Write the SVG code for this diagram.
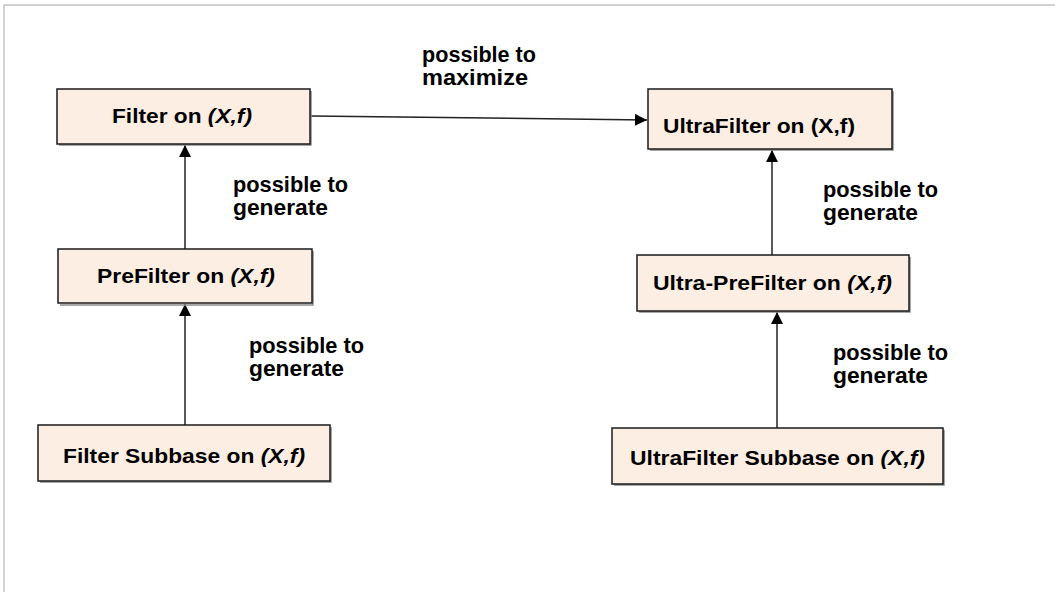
<svg xmlns="http://www.w3.org/2000/svg" width="1055" height="592" viewBox="0 0 1055 592">
<defs>
<style>
.box{fill:#fdeee4;stroke:#1a1a1a;stroke-width:1.5}
.sh{fill:none;stroke:#8a8a8a;stroke-width:1.5}
.t{font-family:"Liberation Sans",Arial,sans-serif;font-weight:bold;font-size:21px;fill:#000}
.lbl{font-family:"Liberation Sans",Arial,sans-serif;font-weight:bold;font-size:22px;fill:#000}
.it{font-style:italic}
.con{stroke:#222;stroke-width:1.5;fill:none}
</style>
<marker id="ah" viewBox="0 0 12 12" refX="12" refY="6" markerWidth="12" markerHeight="12" markerUnits="userSpaceOnUse" orient="auto">
<path d="M0,0 L12,6 L0,12 Z" fill="#000"/>
</marker>
</defs>
<rect width="1055" height="592" fill="#fff"/>
<path d="M4,592 V5 H1055" fill="none" stroke="#c4c4c4" stroke-width="1.5"/>

<g id="connectors">
<line class="con" x1="311" y1="116" x2="647" y2="120" marker-end="url(#ah)"/>
<line class="con" x1="185" y1="249" x2="185" y2="145" marker-end="url(#ah)"/>
<line class="con" x1="185" y1="425" x2="185" y2="304" marker-end="url(#ah)"/>
<line class="con" x1="772" y1="255" x2="772" y2="150" marker-end="url(#ah)"/>
<line class="con" x1="777" y1="428" x2="777" y2="312" marker-end="url(#ah)"/>
</g>

<g id="labels">
<text class="lbl" x="422" y="62" textLength="114" lengthAdjust="spacingAndGlyphs">possible to</text>
<text class="lbl" x="422" y="85" textLength="106" lengthAdjust="spacingAndGlyphs">maximize</text>
<text class="lbl" x="233" y="192" textLength="115" lengthAdjust="spacingAndGlyphs">possible to</text>
<text class="lbl" x="233" y="215" textLength="95" lengthAdjust="spacingAndGlyphs">generate</text>
<text class="lbl" x="249" y="353" textLength="115" lengthAdjust="spacingAndGlyphs">possible to</text>
<text class="lbl" x="249" y="376" textLength="95" lengthAdjust="spacingAndGlyphs">generate</text>
<text class="lbl" x="823" y="197" textLength="115" lengthAdjust="spacingAndGlyphs">possible to</text>
<text class="lbl" x="823" y="220" textLength="95" lengthAdjust="spacingAndGlyphs">generate</text>
<text class="lbl" x="833" y="360" textLength="115" lengthAdjust="spacingAndGlyphs">possible to</text>
<text class="lbl" x="833" y="383" textLength="95" lengthAdjust="spacingAndGlyphs">generate</text>
</g>

<g id="filter">
<path class="sh" d="M59,145 H311 V91"/>
<rect class="box" x="57" y="89" width="253" height="55"/>
<text class="t" x="112" y="123" textLength="140" lengthAdjust="spacingAndGlyphs">Filter on <tspan class="it">(X,f)</tspan></text>
</g>

<g id="prefilter">
<path class="sh" d="M60,305 H313 V251"/>
<rect class="box" x="58" y="249" width="254" height="54"/>
<text class="t" x="97" y="283" textLength="178" lengthAdjust="spacingAndGlyphs">PreFilter on <tspan class="it">(X,f)</tspan></text>
</g>

<g id="filter-subbase">
<path class="sh" d="M40,482 H331 V427"/>
<rect class="box" x="38" y="425" width="292" height="56"/>
<text class="t" x="63" y="463" textLength="242" lengthAdjust="spacingAndGlyphs">Filter Subbase on <tspan class="it">(X,f)</tspan></text>
</g>

<g id="ultrafilter">
<path class="sh" d="M650,150 H893 V91"/>
<rect class="box" x="648" y="89" width="244" height="60"/>
<text class="t" x="663" y="133" textLength="192" lengthAdjust="spacingAndGlyphs">UltraFilter on (X,f)</text>
</g>

<g id="ultra-prefilter">
<path class="sh" d="M639,312 H910 V257"/>
<rect class="box" x="637" y="255" width="272" height="56"/>
<text class="t" x="653" y="290" textLength="239" lengthAdjust="spacingAndGlyphs">Ultra-PreFilter on <tspan class="it">(X,f)</tspan></text>
</g>

<g id="ultrafilter-subbase">
<path class="sh" d="M614,485 H944 V430"/>
<rect class="box" x="612" y="428" width="331" height="56"/>
<text class="t" x="630" y="465" textLength="295" lengthAdjust="spacingAndGlyphs">UltraFilter Subbase on <tspan class="it">(X,f)</tspan></text>
</g>
</svg>
